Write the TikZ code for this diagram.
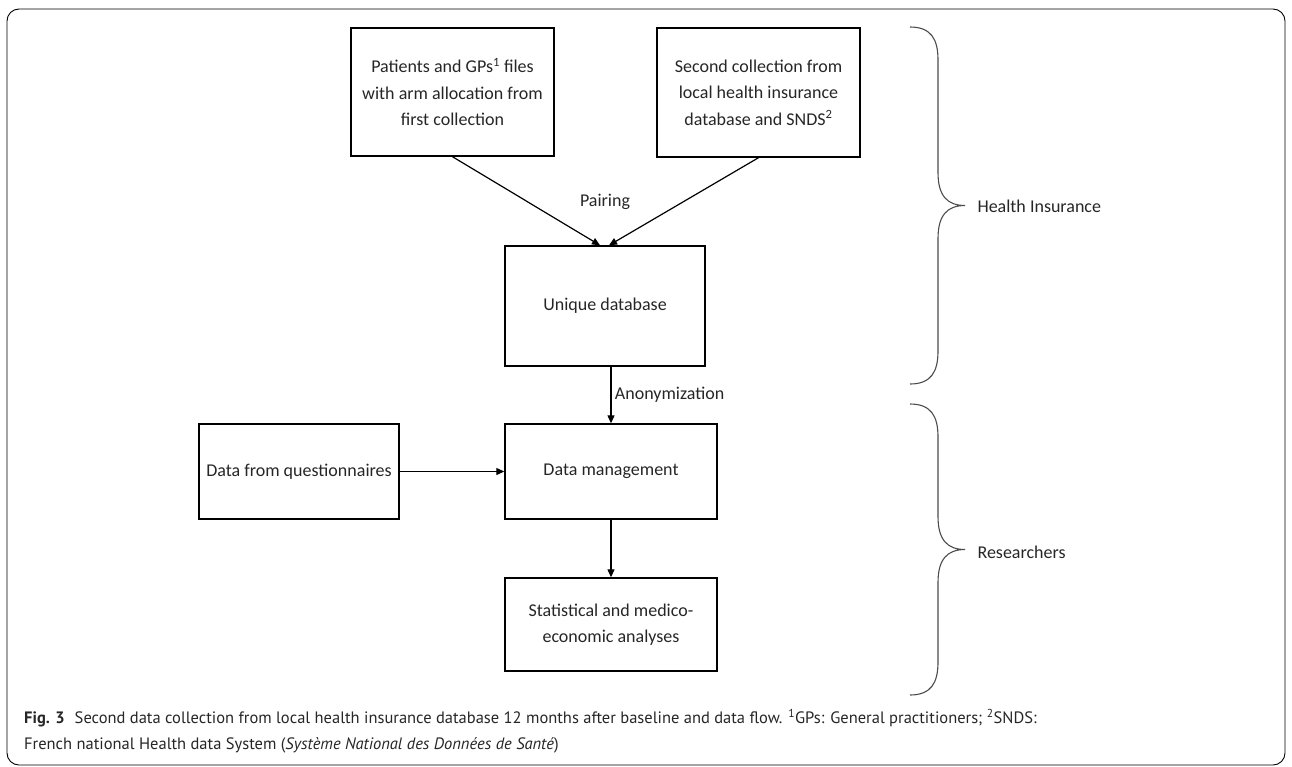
\documentclass[tikz,border=0pt]{standalone}
\usepackage{fontspec}
\setmainfont{Carlito}
\newfontfamily\captionfont{PT Sans}
\usetikzlibrary{arrows.meta}

\begin{document}
\begin{tikzpicture}[
        x=1pt, y=-1pt,
        databox/.style={rectangle, draw, line width=1.4pt, align=center, inner sep=0pt, font=\fontsize{18}{26.5}\selectfont, text=black!85},
        flow_arrow/.style={line width=1.2pt, -{Triangle[length=8pt, width=7pt]}},
        edge_label/.style={font=\fontsize{18}{22}\selectfont, text=black!85},
        brace_line/.style={line width=1.1pt, draw=black!70},
        caption_text/.style={anchor=west, inner sep=0pt, font=\captionfont\fontsize{16.5}{20}\selectfont, text=black!85}
    ]
        \useasboundingbox (0,0) rectangle (1292,766);
        % Outer frame
        \draw[line width=0.9pt, rounded corners=12pt] (7,9) rectangle (1285,765);

        % Health insurance part
        \node[databox, minimum width=203, minimum height=128] (patients) at (452.5,92) {Patients and GPs\textsuperscript{1} files\\with arm allocation from\\first collection};
        \node[databox, minimum width=203, minimum height=129] (second) at (758.5,92.5) {Second collection from\\local health insurance\\database and SNDS\textsuperscript{2}};
        \node[databox, minimum width=200, minimum height=120] (unique) at (605,306) {Unique database};
        \draw[flow_arrow] (patients.south) -- ([xshift=-5pt]unique.north);
        \draw[flow_arrow] (second.south) -- ([xshift=4pt]unique.north);
        \node[edge_label] (pairing) at (605,202) {Pairing};

        % Researchers part
        \node[databox, minimum width=200, minimum height=95] (questionnaires) at (299,471.5) {Data from questionnaires};
        \node[databox, minimum width=212, minimum height=95] (management) at (611,471.5) {Data management};
        \node[databox, minimum width=212, minimum height=93] (analyses) at (611,624.5) {Statistical and medico-\\economic analyses};
        \draw[flow_arrow] (unique.south -| management.north) -- (management.north) node[edge_label, midway, right] {Anonymization};
        \draw[flow_arrow] (questionnaires.east) -- (management.west);
        \draw[flow_arrow] (management.south) -- (analyses.north);

        % Braces
        \foreach \ytop/\ybot in {27/384, 404/695} {
            \pgfmathsetmacro{\ymid}{(\ytop+\ybot)/2}
            \draw[brace_line] (910,\ytop) .. controls (931,\ytop) and (938,\ytop+12) .. (938,\ytop+33)
                -- (938,\ymid-33) .. controls (938,\ymid-10) and (947,\ymid) .. (965,\ymid)
                .. controls (947,\ymid) and (938,\ymid+10) .. (938,\ymid+33)
                -- (938,\ybot-33) .. controls (938,\ybot-12) and (931,\ybot) .. (910,\ybot);
        }
        \node[edge_label, anchor=west] (insurer) at (974,206) {Health Insurance};
        \node[edge_label, anchor=west] (researchers) at (974,552) {Researchers};

        % Caption
        \node[caption_text] (caption1) at (24,718) {\textbf{Fig. 3}\hspace{0.6em}Second data collection from local health insurance database 12 months after baseline and data flow. \textsuperscript{1}GPs: General practitioners; \textsuperscript{2}SNDS:};
        \node[caption_text] (caption2) at (24,745) {French national Health data System (\textit{Système National des Données de Santé})};
\end{tikzpicture}
\end{document}
